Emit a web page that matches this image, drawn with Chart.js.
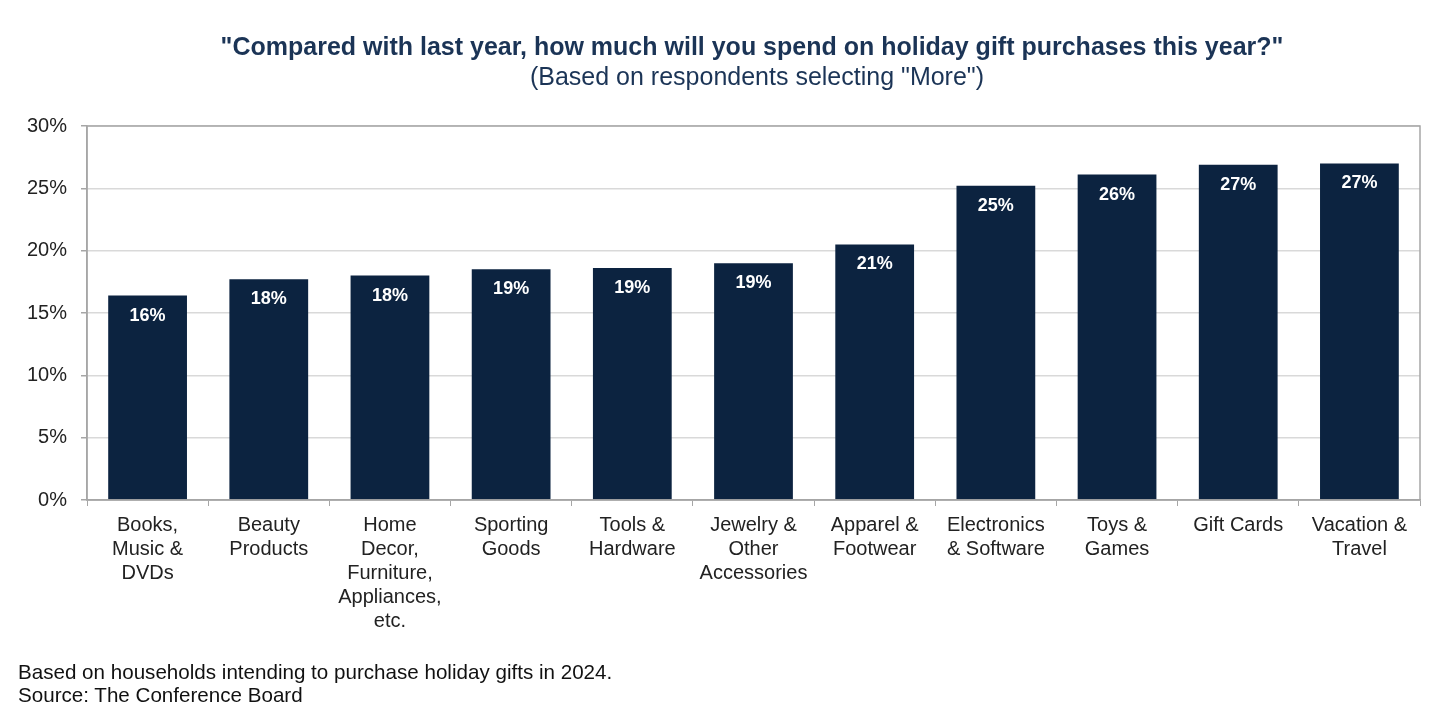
<!DOCTYPE html>
<html>
<head>
<meta charset="utf-8">
<script src="https://cdn.jsdelivr.net/npm/chart.js@4"></script>
<style>
  html, body { margin: 0; padding: 0; background: #fff; }
  body { width: 1440px; height: 721px; position: relative; overflow: hidden; font-family: 'Liberation Sans', Arial, sans-serif; }
  #wrap { position: absolute; left: 0; top: 0; width: 1440px; height: 721px; }
  .title { position: absolute; left: 153px; width: 1200px; text-align: center; color: #1b3456; white-space: nowrap; font-size: 25px; line-height: 30px; }
  #t1 { top: 31px; font-weight: bold; left: 152px; }
  #t2 { top: 61px; left: 157px; }
  .note { position: absolute; left: 18px; font-size: 20.6px; line-height: 23px; color: #111; }
</style>
</head>
<body>
<div id="wrap"><canvas id="chart"></canvas></div>
<div class="title" id="t1">"Compared with last year, how much will you spend on holiday gift purchases this year?"</div>
<div class="title" id="t2">(Based on respondents selecting "More")</div>
<div class="note" style="top:660px">Based on households intending to purchase holiday gifts in 2024.<br>Source: The Conference Board</div>
<script>
// ---- data ----
const categories = [
  ['Books,', 'Music &', 'DVDs'],
  ['Beauty', 'Products'],
  ['Home', 'Decor,', 'Furniture,', 'Appliances,', 'etc.'],
  ['Sporting', 'Goods'],
  ['Tools &', 'Hardware'],
  ['Jewelry &', 'Other', 'Accessories'],
  ['Apparel &', 'Footwear'],
  ['Electronics', '& Software'],
  ['Toys &', 'Games'],
  ['Gift Cards'],
  ['Vacation &', 'Travel'],
];
const shareMore = [16.4, 17.7, 18.0, 18.5, 18.6, 19.0, 20.5, 25.2, 26.1, 26.9, 27.0];
const yTicks = [0, 5, 10, 15, 20, 25, 30];

const NAVY = '#0c2340';
const AXIS = '#a6a6a6';
const GRID = '#d9d9d9';
const FONT = "'Liberation Sans', Arial, sans-serif";

// frame around the plot area
const frame = {
  id: 'frame',
  afterDraw(chart) {
    const { ctx, chartArea: a } = chart;
    ctx.save();
    ctx.strokeStyle = AXIS;
    ctx.lineWidth = 1.5;
    ctx.strokeRect(a.left, a.top, a.right - a.left, a.bottom - a.top);
    ctx.restore();
  },
};

// white value labels inside the top of each bar
const barLabels = {
  id: 'barLabels',
  afterDatasetsDraw(chart) {
    const { ctx } = chart;
    const meta = chart.getDatasetMeta(0);
    ctx.save();
    ctx.fillStyle = '#fff';
    ctx.font = `bold 18px ${FONT}`;
    ctx.textAlign = 'center';
    ctx.textBaseline = 'middle';
    meta.data.forEach((bar, i) => {
      ctx.fillText(Math.round(shareMore[i]) + '%', bar.x, bar.y + 20);
    });
    ctx.restore();
  },
};

new Chart(document.getElementById('chart'), {
  type: 'bar',
  data: {
    labels: categories,
    datasets: [{
      data: shareMore,
      backgroundColor: NAVY,
      borderWidth: 0,
      categoryPercentage: 1,
      barPercentage: 0.65,
    }],
  },
  options: {
    responsive: true,
    maintainAspectRatio: false,
    animation: false,
    layout: { padding: { top: 126, right: 20, left: 0, bottom: 0 } },
    plugins: { legend: { display: false }, tooltip: { enabled: false } },
    scales: {
      x: {
        grid: { drawOnChartArea: false, drawTicks: true, tickLength: 6, color: AXIS, offset: true },
        border: { color: AXIS, width: 1.5 },
        ticks: { color: '#222', padding: 7, maxRotation: 0, autoSkip: false, font: { family: FONT, size: 20, lineHeight: 1.2 } },
        afterFit: s => { s.height = 221; },
      },
      y: {
        min: 0,
        max: 30,
        afterBuildTicks: s => { s.ticks = yTicks.map(v => ({ value: v })); },
        grid: { color: GRID, lineWidth: 1.5, tickLength: 6, tickColor: AXIS },
        border: { color: AXIS, width: 1.5 },
        ticks: { color: '#222', padding: 14, callback: v => v + '%', font: { family: FONT, size: 20 } },
        afterFit: s => { s.width = 87; },
      },
    },
  },
  plugins: [frame, barLabels],
});
</script>
</body>
</html>
